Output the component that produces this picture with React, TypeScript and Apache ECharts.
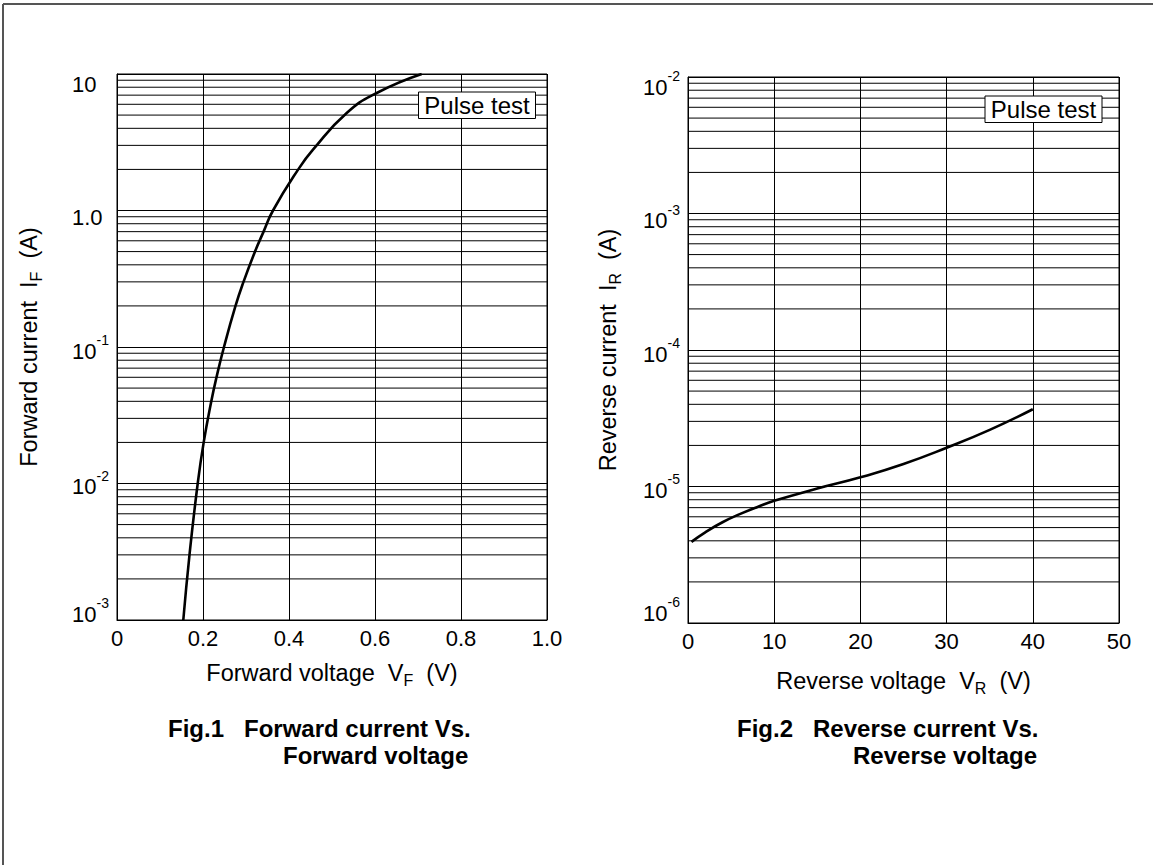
import React, { useEffect, useRef } from 'react';
import * as echarts from 'echarts';

// Fig.1 forward characteristic (V, A)
const FWD_V = [0.1542, 0.1686, 0.1877, 0.2016, 0.2193, 0.2314, 0.2488, 0.2756, 0.2942, 0.3209, 0.3409, 0.3628, 0.4215, 0.4558, 0.5342, 0.604, 0.7086];
const FWD_I = [0.001, 0.003, 0.01, 0.02, 0.04, 0.06, 0.1, 0.2, 0.3, 0.5, 0.7, 1.0, 2.0, 2.79, 5.18, 7.26, 10];
// Fig.2 reverse characteristic (V, A)
const REV_V = [0.4, 2, 4, 6, 8, 10, 15, 20, 25, 30, 35, 40];
const REV_I = [3.93e-6, 4.62e-6, 5.47e-6, 6.27e-6, 7.05e-6, 7.85e-6, 9.66e-6, 1.167e-5, 1.462e-5, 1.923e-5, 2.6e-5, 3.68e-5];

// axis structure
const FWD_X = { min: 0, max: 1, interval: 0.2 };
const REV_X = { min: 0, max: 50, interval: 10 };
const FWD_Y = { min: 0.001, max: 10 };
const REV_Y = { min: 1e-6, max: 1e-2 };
const FWD_DECADES = [0.001, 0.01, 0.1, 1];
const REV_DECADES = [1e-6, 1e-5, 1e-4, 1e-3];
const MANTISSAS = [2, 3, 4, 5, 6, 7, 8, 9];

const FONT = '"Liberation Sans", Arial, Helvetica, sans-serif';
const TICK_FS = 22;
const SUP_FS = 14;
const BASE_W = 24.5; // width of "10" at TICK_FS

function keyFor(e: number) {
  return e < 0 ? 'm' + -e : 'p' + e;
}

type LabelCfg = { rich: Record<string, any>; fmt: Record<string, string> };

function buildLabels(shifts: Record<string, number>, plain: number[]): LabelCfg {
  const rich: Record<string, any> = {};
  const fmt: Record<string, string> = {};
  Object.keys(shifts).forEach((ks) => {
    const e = Number(ks);
    const s = shifts[ks];
    const k = keyFor(e);
    const base = { fontSize: TICK_FS, fontFamily: FONT, color: '#000' };
    if (plain.indexOf(e) >= 0) {
      const txt = e === 0 ? '1.0' : String(Math.pow(10, e));
      const h1 = s > 0 ? 2 * s : 0;
      const h3 = s < 0 ? -2 * s : 0;
      rich['b' + k] = { ...base, lineHeight: TICK_FS };
      rich['e' + k] = { ...base, lineHeight: h1 };
      rich['t' + k] = { ...base, lineHeight: h3 };
      let str = '';
      if (h1 > 0) str += `{e${k}| }\n`;
      str += `{b${k}|${txt}}`;
      if (h3 > 0) str += `\n{t${k}| }`;
      fmt[k] = str;
    } else {
      let h1: number, h2: number, h3: number;
      if (s >= 3) {
        h1 = 2 * s;
        h2 = 22 - 2 * s;
        h3 = 0;
      } else {
        h1 = 6;
        h2 = 16;
        h3 = 6 - 2 * s;
      }
      rich['sp' + k] = { fontSize: SUP_FS, fontFamily: FONT, width: BASE_W, lineHeight: h1 };
      rich['s' + k] = { fontSize: SUP_FS, fontFamily: FONT, color: '#000', lineHeight: h1 };
      rich['b' + k] = { ...base, lineHeight: h2 };
      rich['t' + k] = { ...base, lineHeight: h3 };
      let str = `{sp${k}| }{s${k}|${e}}\n{b${k}|10}`;
      if (h3 > 0) str += `\n{t${k}| }`;
      fmt[k] = str;
    }
  });
  return { rich, fmt };
}

function minorValues(decades: number[]) {
  const out: number[] = [];
  decades.forEach((d) => MANTISSAS.forEach((m) => out.push(m * d)));
  return out;
}

const NAME_FS = 23.5;
const nameRich = {
  n: { fontSize: NAME_FS, fontFamily: FONT, color: '#000', lineHeight: 26, verticalAlign: 'bottom' },
  sub: { fontSize: 16, fontFamily: FONT, color: '#000', lineHeight: 16, verticalAlign: 'bottom', padding: [0, 0, -3, 0] },
};

const gridLine = { show: true, lineStyle: { color: '#000', width: 1, type: 'solid' } };

export default function App() {
  const ref = useRef<HTMLDivElement>(null);
  useEffect(() => {
    if (!ref.current) return;
    const chart = echarts.init(ref.current, undefined, { renderer: 'svg' });
    const labelsL = buildLabels({ '1': 10, '0': 7, '-1': 4, '-2': 3, '-3': -6 }, [1, 0]);
    const labelsR = buildLabels({ '-2': 10, '-3': 7, '-4': 4, '-5': 3.5, '-6': -10 }, []);

    const xAxisBase = (g: number, ax: any, name: string, gap: number, fmt: (v: number) => string) => ({
      type: 'value',
      gridIndex: g,
      min: ax.min,
      max: ax.max,
      interval: ax.interval,
      axisLine: { show: true, onZero: false, lineStyle: { color: '#000', width: 1 } },
      axisTick: { show: false },
      splitLine: gridLine,
      axisLabel: { fontSize: TICK_FS, fontFamily: FONT, color: '#000', margin: 7, formatter: fmt, showMinLabel: true, showMaxLabel: true },
      name,
      nameLocation: 'middle',
      nameGap: gap,
      nameTextStyle: { rich: nameRich },
    });

    const yAxisBase = (g: number, ax: any, name: string, gap: number, labels: LabelCfg) => ({
      type: 'log',
      logBase: 10,
      gridIndex: g,
      min: ax.min,
      max: ax.max,
      axisLine: { show: true, lineStyle: { color: '#000', width: 1 } },
      axisTick: { show: false },
      splitLine: gridLine,
      axisLabel: {
        align: 'left',
        margin: 45,
        formatter: (v: number) => labels.fmt[keyFor(Math.round(Math.log10(v)))] || '',
        rich: labels.rich,
        showMinLabel: true,
        showMaxLabel: true,
      },
      name,
      nameLocation: 'middle',
      nameGap: gap,
      nameTextStyle: { rich: nameRich },
    });

    const minorSeries = (g: number, ax: any, decades: number[]) =>
      minorValues(decades).map((v) => ({
        type: 'line',
        xAxisIndex: g,
        yAxisIndex: g,
        data: [
          [ax.min, v],
          [ax.max, v],
        ],
        symbol: 'none',
        showSymbol: false,
        silent: true,
        lineStyle: { color: '#000', width: 1 },
        emphasis: { disabled: true },
        z: 1,
      }));

    const option: any = {
      animation: false,
      backgroundColor: '#fff',
      textStyle: { fontFamily: FONT },
      grid: [
        { left: 117, top: 74, width: 430, height: 546, show: true, borderColor: '#000', borderWidth: 1, backgroundColor: 'transparent' },
        { left: 688, top: 77, width: 431, height: 546, show: true, borderColor: '#000', borderWidth: 1, backgroundColor: 'transparent' },
      ],
      xAxis: [
        xAxisBase(0, FWD_X, '{n|Forward voltage  V}{sub|F}{n|  (V)}', 39, (v: number) => (v === 0 ? '0' : v.toFixed(1))),
        xAxisBase(1, REV_X, '{n|Reverse voltage  V}{sub|R}{n|  (V)}', 44, (v: number) => String(Math.round(v))),
      ],
      yAxis: [
        yAxisBase(0, FWD_Y, '{n|Forward current  I}{sub|F}{n|  (A)}', 76, labelsL),
        yAxisBase(1, REV_Y, '{n|Reverse current  I}{sub|R}{n|  (A)}', 68, labelsR),
      ],
      series: [
        ...minorSeries(0, FWD_X, FWD_DECADES),
        ...minorSeries(1, REV_X, REV_DECADES),
        {
          type: 'line',
          xAxisIndex: 0,
          yAxisIndex: 0,
          data: FWD_V.map((v, i) => [v, FWD_I[i]]),
          smooth: 0.5,
          showSymbol: false,
          symbol: 'none',
          lineStyle: { color: '#000', width: 2.6 },
          z: 5,
        },
        {
          type: 'line',
          xAxisIndex: 1,
          yAxisIndex: 1,
          data: REV_V.map((v, i) => [v, REV_I[i]]),
          smooth: 0.5,
          showSymbol: false,
          symbol: 'none',
          lineStyle: { color: '#000', width: 2.6 },
          z: 5,
        },
      ],
      graphic: [
        { type: 'line', shape: { x1: 3, y1: 4, x2: 1153, y2: 4 }, style: { stroke: '#555', lineWidth: 2 } },
        { type: 'line', shape: { x1: 3, y1: 4, x2: 3, y2: 865 }, style: { stroke: '#555', lineWidth: 2 } },
        { type: 'rect', shape: { x: 418.5, y: 92, width: 117, height: 26.5 }, style: { fill: '#fff', stroke: '#000', lineWidth: 1 }, z: 10 },
        { type: 'text', x: 477, y: 105.5, style: { text: 'Pulse test', fontSize: 24, fontFamily: FONT, fill: '#000', textAlign: 'center', textVerticalAlign: 'middle' }, z: 11 },
        { type: 'rect', shape: { x: 985, y: 96, width: 117, height: 26.5 }, style: { fill: '#fff', stroke: '#000', lineWidth: 1 }, z: 10 },
        { type: 'text', x: 1043.5, y: 109.5, style: { text: 'Pulse test', fontSize: 24, fontFamily: FONT, fill: '#000', textAlign: 'center', textVerticalAlign: 'middle' }, z: 11 },
        { type: 'text', x: 168, y: 728, style: { text: 'Fig.1   Forward current Vs.', fontSize: 24, fontWeight: 'bold', fontFamily: FONT, fill: '#000', textAlign: 'left', textVerticalAlign: 'middle' } },
        { type: 'text', x: 283, y: 755, style: { text: 'Forward voltage', fontSize: 24, fontWeight: 'bold', fontFamily: FONT, fill: '#000', textAlign: 'left', textVerticalAlign: 'middle' } },
        { type: 'text', x: 737, y: 728, style: { text: 'Fig.2   Reverse current Vs.', fontSize: 24, fontWeight: 'bold', fontFamily: FONT, fill: '#000', textAlign: 'left', textVerticalAlign: 'middle' } },
        { type: 'text', x: 853, y: 755, style: { text: 'Reverse voltage', fontSize: 24, fontWeight: 'bold', fontFamily: FONT, fill: '#000', textAlign: 'left', textVerticalAlign: 'middle' } },
      ],
    };
    chart.setOption(option);
    return () => chart.dispose();
  }, []);
  return <div ref={ref} style={{ position: 'absolute', left: 0, top: 0, width: 1153, height: 865 }} />;
}
